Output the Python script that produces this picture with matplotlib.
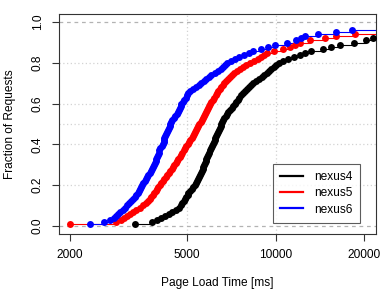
import numpy as np
import matplotlib
matplotlib.use("Agg")
import matplotlib.pyplot as plt
from matplotlib.lines import Line2D

plt.rcParams['font.family'] = ['Liberation Sans', 'DejaVu Sans']

series_names = ["nexus4", "nexus5", "nexus6"]
series_colors = ["black", "red", "blue"]

nexus4 = [3329, 3808, 3944, 4069, 4200, 4333, 4454, 4577, 4685, 4764,
          4821, 4873, 4929, 4980, 5020, 5055, 5120, 5189, 5250, 5312,
          5354, 5396, 5439, 5481, 5524, 5568, 5611, 5646, 5682, 5718,
          5752, 5788, 5824, 5861, 5898, 5935, 5982, 6034, 6082, 6130,
          6174, 6211, 6250, 6290, 6334, 6374, 6420, 6459, 6500, 6546,
          6587, 6639, 6702, 6771, 6835, 6917, 6999, 7088, 7173, 7265,
          7350, 7436, 7541, 7643, 7751, 7856, 7980, 8106, 8234, 8397,
          8564, 8767, 8976, 9141, 9333, 9482, 9632, 9859, 10054, 10253,
          10580, 11002, 11532, 12087, 12570, 13175, 14471, 15492, 16540, 18455,
          20267, 21416, 23000, 24500, 26000, 28500, 31000, 35000, 42000, 55000]

nexus5 = [2000, 2876, 2990, 3045, 3118, 3192, 3275, 3359, 3453, 3541,
          3638, 3690, 3734, 3778, 3822, 3867, 3913, 3953, 3996, 4038,
          4085, 4134, 4183, 4233, 4283, 4334, 4385, 4436, 4482, 4524,
          4577, 4625, 4671, 4723, 4772, 4820, 4873, 4922, 4980, 5039,
          5087, 5131, 5180, 5229, 5270, 5320, 5366, 5408, 5455, 5502,
          5559, 5610, 5654, 5700, 5743, 5788, 5834, 5880, 5926, 5973,
          6043, 6114, 6187, 6260, 6324, 6390, 6459, 6536, 6614, 6692,
          6788, 6878, 6985, 7095, 7236, 7380, 7555, 7735, 7950, 8170,
          8432, 8700, 8904, 9116, 9333, 9859, 10580, 11176, 11623, 12087,
          13072, 14700, 16028, 18600, 23000, 25500, 28000, 32000, 38000, 50000]

nexus6 = [2334, 2604, 2729, 2816, 2872, 2918, 2968, 3028, 3081, 3130,
          3179, 3230, 3275, 3319, 3358, 3399, 3426, 3461, 3494, 3526,
          3548, 3590, 3627, 3661, 3696, 3734, 3772, 3802, 3831, 3858,
          3883, 3907, 3929, 3953, 3975, 4006, 4031, 4057, 4102, 4144,
          4160, 4177, 4190, 4207, 4233, 4267, 4300, 4334, 4368, 4392,
          4420, 4455, 4508, 4562, 4616, 4664, 4708, 4738, 4764, 4785,
          4835, 4892, 4950, 5001, 5053, 5108, 5229, 5354, 5481, 5590,
          5700, 5813, 5926, 6045, 6211, 6358, 6510, 6639, 6743, 6850,
          7040, 7265, 7497, 7794, 8106, 8363, 8904, 9411, 9937, 10925,
          11716, 12239, 12570, 13919, 16028, 18264, 23500, 27000, 33000, 45000]

x_ticks = [2000, 5000, 10000, 20000]
y_ticks = [0.0, 0.2, 0.4, 0.6, 0.8, 1.0]
y_grid = [0.2, 0.4, 0.5, 0.6, 0.8]
x_grid = [5000, 10000]

W, H = 390, 293
fig = plt.figure(figsize=(W / 100, H / 100), dpi=100)
ax = fig.add_axes([59 / W, 1 - 234 / H, 316.5 / W, 220 / H])
ax.set_xscale('log')
xlim = (1835, 21880)
ax.set_xlim(*xlim)
ax.set_ylim(-0.04, 1.04)

# grid
for g in y_grid:
    ax.axhline(g, color='#d3d3d3', lw=0.9, ls=(0, (1, 2)), zorder=1)
for g in x_grid:
    ax.axvline(g, color='#d3d3d3', lw=0.9, ls=(0, (1, 2)), zorder=1)
for g in (0.0, 1.0):
    ax.axhline(g, color='#b3b3b3', lw=0.9, ls=(0, (3, 3)), zorder=2)

for data, col in zip([nexus4, nexus5, nexus6], series_colors):
    xs = np.sort(np.asarray(data, dtype=float))
    n = len(xs)
    ys = np.arange(1, n + 1) / n
    xe = np.append(xs[1:], 1e6)
    ax.hlines(ys, xs, xe, colors=col, lw=0.8, zorder=3)
    ax.plot(xs, ys, 'o', color=col, ms=5.0, mec='none', zorder=4)

ax.set_xticks(x_ticks)
ax.set_xticklabels([str(t) for t in x_ticks])
ax.xaxis.set_minor_locator(matplotlib.ticker.NullLocator())
ax.set_yticks(y_ticks)
ax.set_yticklabels([f"{t:.1f}" for t in y_ticks], rotation=90, va='center')
ax.tick_params(axis='both', direction='out', length=5, width=0.8,
               color='#333333', labelsize=8.6, labelcolor='black')
ax.tick_params(axis='x', pad=5.5)
ax.tick_params(axis='y', pad=6)
for s in ax.spines.values():
    s.set_color('#333333')
    s.set_linewidth(0.8)

ax.set_xlabel("Page Load Time [ms]", fontsize=8.6, va='center')
ax.xaxis.set_label_coords(0.5, (234 - 283) / 220)
ax.set_ylabel("Fraction of Requests", fontsize=8.6, va='center')
ax.yaxis.set_label_coords((10 - 59) / 316.5, 0.5)

handles = [Line2D([0], [0], color=c, lw=1.6) for c in series_colors]
leg = ax.legend(handles, series_names, loc='lower right',
                bbox_to_anchor=(0.950, 0.051), borderaxespad=0,
                fontsize=8.6, frameon=True, fancybox=False,
                handlelength=1.94, handletextpad=0.9, borderpad=0.6,
                labelspacing=0.35)
leg.get_frame().set_edgecolor('#333333')
leg.get_frame().set_linewidth(0.8)

fig.savefig("out.png", dpi=100)
